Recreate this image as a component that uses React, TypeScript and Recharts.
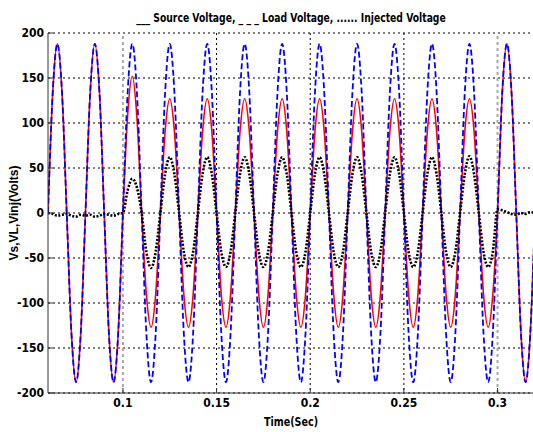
import { LineChart, Line, XAxis, YAxis, CartesianGrid, ReferenceLine } from "recharts";

// sampling of the traces (s)
const T0 = 0.06;
const DT = 0.0025;

const X_TICKS = [0.1, 0.15, 0.2, 0.25, 0.3];
const GRID_X = [0.15, 0.2, 0.25];
const Y_TICKS = [-200, -150, -100, -50, 0, 50, 100, 150, 200];

// load voltage (V), blue dashed
const loadVoltage = [
  0, 133, 188, 133, 0, -133, -188, -133,
  0, 133, 188, 133, 0, -133, -188, -133,
  0, 133, 188, 133, 0, -133, -188, -133,
  0, 133, 188, 133, 0, -133, -188, -133,
  0, 133, 188, 133, 0, -133, -188, -133,
  0, 133, 188, 133, 0, -133, -188, -133,
  0, 133, 188, 133, 0, -133, -188, -133,
  0, 133, 188, 133, 0, -133, -188, -133,
  0, 133, 188, 133, 0, -133, -188, -133,
  0, 133, 188, 133, 0, -133, -188, -133,
  0, 133, 188, 133, 0, -133, -188, -133,
  0, 133, 188, 133, 0, -133, -188, -133,
  0, 133, 188, 133, 0, -133, -188, -133,
  0,
];

// source voltage (V), red solid - sag between 0.1 and 0.3 s
const sourceVoltage = [
  0, 133, 188, 133, 0, -133, -188, -133,
  0, 133, 188, 133, 0, -133, -188, -133,
  0, 108, 152, 105, 0, -90, -127, -90,
  0, 90, 127, 90, 0, -90, -127, -90,
  0, 90, 127, 90, 0, -90, -127, -90,
  0, 90, 127, 90, 0, -90, -127, -90,
  0, 90, 127, 90, 0, -90, -127, -90,
  0, 90, 127, 90, 0, -90, -127, -90,
  0, 90, 127, 90, 0, -90, -127, -90,
  0, 90, 127, 90, 0, -90, -127, -90,
  0, 90, 127, 90, 0, -90, -127, -90,
  0, 90, 127, 90, 0, -90, -127, -90,
  0, 133, 188, 133, 0, -133, -188, -133,
  0,
];

// injected voltage (V), black dotted
const injectedVoltage = [
  0, -1, -3, -2, -1, -3, -4, -2,
  -3, -2, -4, -3, -1, -2, -3, -1,
  0, 25, 38, 28, 0, -43, -61, -43,
  0, 43, 62, 43, 0, -43, -60, -43,
  0, 43, 62, 43, 0, -43, -60, -43,
  0, 43, 62, 43, 0, -43, -60, -43,
  0, 43, 62, 43, 0, -43, -60, -43,
  0, 43, 62, 43, 0, -43, -60, -43,
  0, 43, 62, 43, 0, -43, -60, -43,
  0, 43, 62, 43, 0, -43, -60, -43,
  0, 43, 62, 43, 0, -43, -60, -43,
  0, 43, 63, 43, 0, -43, -60, -43,
  4, 3, 1, -1, -2, 0, -1, 1,
  0,
];

const data = loadVoltage.map((v, i) => ({
  t: +(T0 + i * DT).toFixed(4),
  load: v,
  source: sourceVoltage[i],
  inj: injectedVoltage[i],
}));

const FONT = "'Liberation Sans Narrow', 'DejaVu Sans Condensed', Arial, sans-serif";
const tickStyle = { fill: "#000", fontSize: 12, fontWeight: "bold", fontFamily: FONT };

export default function App() {
  return (
    <div
      style={{
        position: "absolute", left: 0, top: 0, width: 533, height: 432,
        overflow: "hidden", background: "#fff",
      }}
    >
      <LineChart width={540} height={432} data={data} margin={{ top: 33, right: 5, bottom: 0, left: 0 }}>
        <CartesianGrid stroke="#000" strokeDasharray="2 3" strokeWidth={1} verticalValues={GRID_X} />
        <XAxis
          dataKey="t" type="number" domain={[0.06, 0.32]} ticks={X_TICKS} allowDataOverflow
          height={39} tickSize={-5} tickMargin={10} interval={0}
          axisLine={{ stroke: "#333" }} tickLine={{ stroke: "#333" }} tick={tickStyle}
          tickFormatter={(v) => String(v)}
        />
        <XAxis
          xAxisId="top" orientation="top" dataKey="t" type="number" domain={[0.06, 0.32]}
          ticks={X_TICKS} allowDataOverflow height={0} tickSize={-5} interval={0}
          axisLine={{ stroke: "#333" }} tickLine={{ stroke: "#333" }} tick={false}
        />
        <YAxis
          type="number" domain={[-200, 200]} ticks={Y_TICKS} interval={0}
          width={48} tickSize={-5} tickMargin={9}
          axisLine={{ stroke: "#333" }} tickLine={{ stroke: "#333" }} tick={tickStyle}
        />
        <ReferenceLine x={0.1} stroke="#a8a8a8" strokeWidth={2} strokeDasharray="3 3" />
        <ReferenceLine x={0.3} stroke="#a8a8a8" strokeWidth={2} strokeDasharray="3 3" />
        <Line type="monotone" dataKey="source" stroke="#ff0000" strokeWidth={1.6} dot={false} isAnimationActive={false} />
        <Line type="monotone" dataKey="load" stroke="#0000ff" strokeWidth={1.8} strokeDasharray="6 3" dot={false} isAnimationActive={false} />
        <Line type="monotone" dataKey="inj" stroke="#000" strokeWidth={2.6} strokeDasharray="2 1.6" dot={false} isAnimationActive={false} />
      </LineChart>
      <div
        style={{
          position: "absolute", left: 291, top: 17, transform: "translate(-50%, -50%) scaleX(0.82)",
          whiteSpace: "nowrap", fontFamily: FONT, fontWeight: "bold", fontSize: 12.5, color: "#000",
        }}
      >
        ___ Source Voltage, _ _ _ Load Voltage, ...... Injected Voltage
      </div>
      <div
        style={{
          position: "absolute", left: 291, top: 421, transform: "translate(-50%, -50%) scaleX(0.85)",
          whiteSpace: "nowrap", fontFamily: FONT, fontWeight: "bold", fontSize: 12.5, color: "#000",
        }}
      >
        Time(Sec)
      </div>
      <div
        style={{
          position: "absolute", left: 14, top: 213, transform: "translate(-50%, -50%) rotate(-90deg)",
          whiteSpace: "nowrap", fontFamily: "'Liberation Sans', Arial, sans-serif", fontWeight: "bold",
          fontSize: 12, color: "#000",
        }}
      >
        Vs,VL,Vinj(Volts)
      </div>
    </div>
  );
}
